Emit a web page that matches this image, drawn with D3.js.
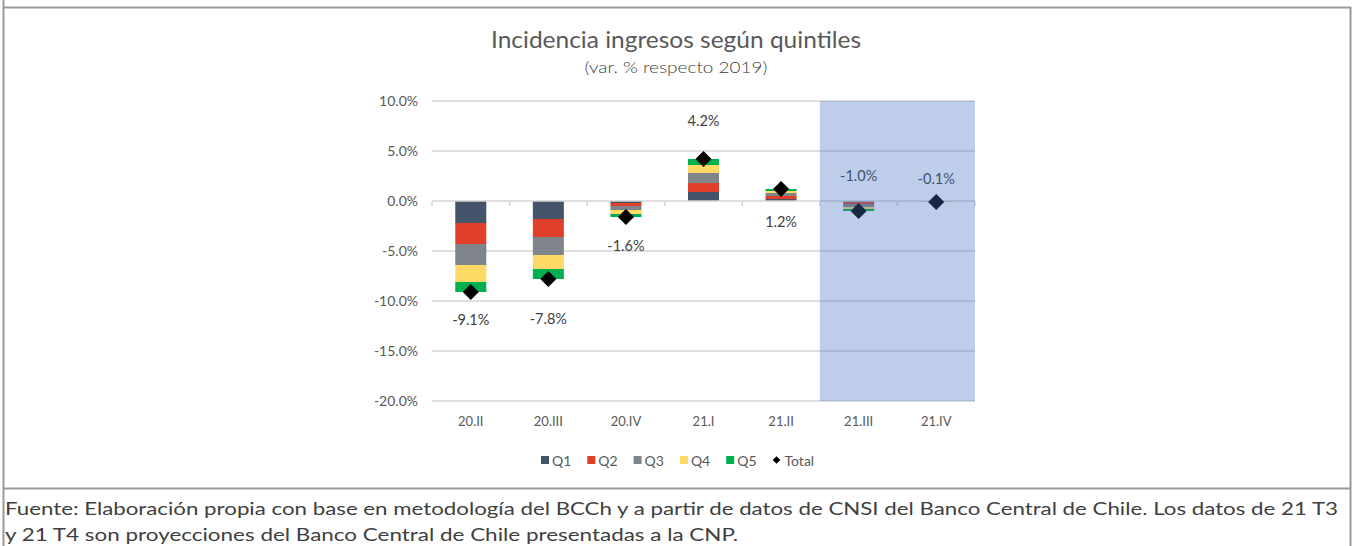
<!DOCTYPE html>
<html>
<head>
<meta charset="utf-8">
<script src="https://cdn.jsdelivr.net/npm/d3@7"></script>
<style>
  body { margin: 0; background: #fff; }
  svg text { font-family: Lato, "Open Sans", sans-serif; }
</style>
</head>
<body>
<script>
// data
const categories = ["20.II", "20.III", "20.IV", "21.I", "21.II", "21.III", "21.IV"];
const q1 = [-2.2, -1.8, -0.2, 0.9, 0.2, -0.1, -0.02];
const q2 = [-2.1, -1.8, -0.3, 0.9, 0.3, -0.2, -0.02];
const q3 = [-2.1, -1.8, -0.4, 1.0, 0.3, -0.3, -0.02];
const q4 = [-1.7, -1.4, -0.4, 0.8, 0.2, -0.2, -0.02];
const q5 = [-1.0, -1.0, -0.3, 0.6, 0.2, -0.2, -0.02];
const total = [-9.1, -7.8, -1.6, 4.2, 1.2, -1.0, -0.1];
const yTicks = [10, 5, 0, -5, -10, -15, -20];
const projected = ["21.III", "21.IV"];
const seriesNames = ["Q1", "Q2", "Q3", "Q4", "Q5"];

const colors = ["#44546a", "#e0402a", "#7f858b", "#ffd966", "#00b050"];
// label offsets from the total marker (px), as placed in the original
const labelDy = [28, 40, 29, -38, 33, -35, -23];

const pct = v => v.toFixed(1) + "%";

const W = 1357, H = 546;
const svg = d3.select("body").append("svg")
  .attr("width", W).attr("height", H);

// frame
const frame = "#9a9a9a";
svg.append("line").attr("x1", 3.5).attr("x2", 3.5).attr("y1", 0).attr("y2", H)
  .attr("stroke", frame).attr("stroke-width", 2);
svg.append("line").attr("x1", 1350.5).attr("x2", 1350.5).attr("y1", 7).attr("y2", H)
  .attr("stroke", frame).attr("stroke-width", 2);
svg.append("line").attr("x1", 3).attr("x2", 1351).attr("y1", 7.5).attr("y2", 7.5)
  .attr("stroke", frame).attr("stroke-width", 2);
svg.append("line").attr("x1", 3).attr("x2", 1351).attr("y1", 488.5).attr("y2", 488.5)
  .attr("stroke", frame).attr("stroke-width", 2);

// title
svg.append("text").attr("x", 676).attr("y", 48).attr("text-anchor", "middle")
  .attr("font-size", 23).attr("fill", "#595959")
  .attr("textLength", 370).attr("lengthAdjust", "spacingAndGlyphs")
  .text("Incidencia ingresos según quintiles");
svg.append("text").attr("x", 676).attr("y", 73).attr("text-anchor", "middle")
  .attr("font-size", 15.5).attr("fill", "#404040").attr("font-weight", 300)
  .attr("textLength", 183).attr("lengthAdjust", "spacingAndGlyphs")
  .text("(var. % respecto 2019)");

const x = d3.scaleBand().domain(categories).range([432, 975]).paddingInner(0.6).paddingOuter(0.3);
const y = d3.scaleLinear().domain([-20, 10]).range([401, 101]);
const step = x.step();
const bandStart = c => 432 + categories.indexOf(c) * step;

// gridlines
svg.append("g").selectAll("line").data(yTicks.filter(d => d !== 0)).enter()
  .append("line")
  .attr("x1", 432).attr("x2", 975)
  .attr("y1", d => y(d)).attr("y2", d => y(d))
  .attr("stroke", "#d4d4d4").attr("stroke-width", 1.5);

// y axis labels
const yAxis = d3.axisLeft(y).tickValues(yTicks).tickSize(0).tickPadding(0)
  .tickFormat(pct);
const gy = svg.append("g").attr("transform", "translate(418,0)").call(yAxis);
gy.select(".domain").remove();
gy.selectAll("text").attr("font-size", 14).attr("fill", "#595959")
  .attr("font-family", "Lato, sans-serif");

// stacked bars (offset diverging)
const rows = categories.map((c, i) => ({ cat: c, Q1: q1[i], Q2: q2[i], Q3: q3[i], Q4: q4[i], Q5: q5[i] }));
const stack = d3.stack().keys(seriesNames).offset(d3.stackOffsetDiverging)(rows);
svg.append("g").selectAll("g").data(stack).enter()
  .append("g").attr("fill", (d, i) => colors[i])
  .selectAll("rect").data(d => d).enter()
  .append("rect")
  .attr("x", d => x(d.data.cat))
  .attr("width", x.bandwidth())
  .attr("y", d => y(Math.max(d[0], d[1])))
  .attr("height", d => Math.abs(y(d[0]) - y(d[1])));

// x axis at zero
const xAxis = d3.axisBottom(x).tickSize(0).tickPadding(0).tickFormat("");
const gx = svg.append("g").attr("transform", `translate(0,${y(0)})`).call(xAxis);
gx.select(".domain").attr("stroke", "#d4d4d4").attr("stroke-width", 1.5)
  .attr("d", "M432,0H975");
gx.selectAll(".tick").remove();
svg.append("g").selectAll("line").data(d3.range(categories.length + 1)).enter()
  .append("line")
  .attr("x1", i => 432 + i * step).attr("x2", i => 432 + i * step)
  .attr("y1", y(0)).attr("y2", y(0) + 5)
  .attr("stroke", "#d4d4d4").attr("stroke-width", 1.5);

// category labels
svg.append("g").selectAll("text").data(categories).enter()
  .append("text")
  .attr("x", d => x(d) + x.bandwidth() / 2).attr("y", 426)
  .attr("text-anchor", "middle").attr("font-size", 13).attr("fill", "#595959")
  .text(d => d);

// total markers (square rotated 45 deg)
const diamond = d3.symbol().type(d3.symbolSquare).size(130);
svg.append("g").selectAll("path").data(total).enter()
  .append("path")
  .attr("d", diamond)
  .attr("transform", (d, i) => `translate(${x(categories[i]) + x.bandwidth() / 2},${y(d)}) rotate(45)`)
  .attr("fill", "#000");

// total labels
svg.append("g").selectAll("text").data(total).enter()
  .append("text")
  .attr("x", (d, i) => x(categories[i]) + x.bandwidth() / 2)
  .attr("y", (d, i) => y(d) + labelDy[i] + 5)
  .attr("text-anchor", "middle").attr("font-size", 14.5).attr("fill", "#404040")
  .text(pct);

// projection shading, drawn on top
svg.append("rect")
  .attr("x", bandStart(projected[0]))
  .attr("width", step * projected.length)
  .attr("y", y(10)).attr("height", y(-20) - y(10))
  .attr("fill", "#4472c4").attr("opacity", 0.35);

// legend
const legend = svg.append("g").attr("transform", "translate(541,460)");
seriesNames.forEach((n, i) => {
  const g = legend.append("g").attr("transform", `translate(${i * 46.3},0)`);
  g.append("rect").attr("x", 0).attr("y", -4).attr("width", 8).attr("height", 8).attr("fill", colors[i]);
  g.append("text").attr("x", 11).attr("y", 5.5).attr("font-size", 14).attr("fill", "#595959").text(n);
});
const gt = legend.append("g").attr("transform", `translate(${5 * 46.3},0)`);
gt.append("path").attr("d", d3.symbol().type(d3.symbolSquare).size(30)).attr("transform", "translate(4,0) rotate(45)");
gt.append("text").attr("x", 12).attr("y", 5.5).attr("font-size", 14).attr("fill", "#595959").text("Total");

// source note
svg.append("text").attr("x", 5).attr("y", 515).attr("font-size", 17).attr("fill", "#404040")
  .attr("textLength", 1333).attr("lengthAdjust", "spacingAndGlyphs")
  .text("Fuente: Elaboración propia con base en metodología del BCCh y a partir de datos de CNSI del Banco Central de Chile. Los datos de 21 T3");
svg.append("text").attr("x", 5).attr("y", 541).attr("font-size", 17).attr("fill", "#404040")
  .attr("textLength", 733).attr("lengthAdjust", "spacingAndGlyphs")
  .text("y 21 T4 son proyecciones del Banco Central de Chile presentadas a la CNP.");
</script>
</body>
</html>
